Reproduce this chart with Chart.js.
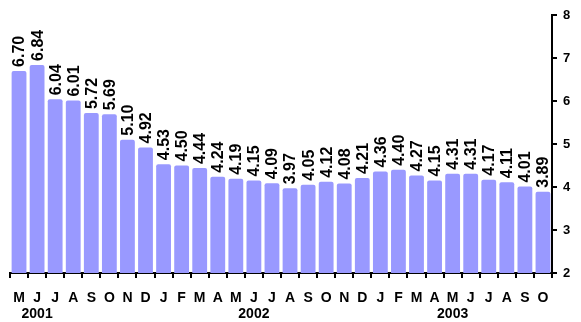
<!DOCTYPE html>
<html>
<head>
<meta charset="utf-8">
<script src="https://cdn.jsdelivr.net/npm/chart.js@4/dist/chart.umd.min.js"></script>
<style>
  html, body { margin: 0; padding: 0; background: #fff; }
  #wrap { width: 581px; height: 322px; }
</style>
</head>
<body>
<div id="wrap"><canvas id="c" width="581" height="322"></canvas></div>
<script>
// Monthly values, May 2001 – Oct 2003
const months = ['M','J','J','A','S','O','N','D',
                'J','F','M','A','M','J','J','A','S','O','N','D',
                'J','F','M','A','M','J','J','A','S','O'];
// Year captions, placed under the given month index
const yearLabels = { 1: '2001', 13: '2002', 24: '2003' };
const values = [6.70, 6.84, 6.04, 6.01, 5.72, 5.69, 5.10, 4.92,
                4.53, 4.50, 4.44, 4.24, 4.19, 4.15, 4.09, 3.97, 4.05, 4.12, 4.08, 4.21, 4.36, 4.40,
                4.27, 4.15, 4.31, 4.31, 4.17, 4.11, 4.01, 3.89];
const yTicks = [2, 3, 4, 5, 6, 7, 8];

const labels = months.map((m, i) => yearLabels[i] ? [m, yearLabels[i]] : m);

const FONT = 'Liberation Sans, Arial, Helvetica, sans-serif';

// Vertical value labels above each bar
const valueLabels = {
  id: 'valueLabels',
  afterDatasetsDraw(chart) {
    const ctx = chart.ctx;
    const meta = chart.getDatasetMeta(0);
    ctx.save();
    ctx.font = 'bold 16px ' + FONT;
    ctx.fillStyle = '#000';
    ctx.textAlign = 'left';
    ctx.textBaseline = 'middle';
    meta.data.forEach((bar, i) => {
      ctx.save();
      ctx.translate(bar.x + 1, bar.y - 4);
      ctx.rotate(-Math.PI / 2);
      ctx.fillText(values[i].toFixed(2), 0, 0);
      ctx.restore();
    });
    ctx.restore();
  }
};

new Chart(document.getElementById('c'), {
  type: 'bar',
  data: {
    labels: labels,
    datasets: [{
      data: values,
      backgroundColor: '#9999FF',
      borderWidth: 0,
      borderRadius: { topLeft: 2, topRight: 2 },
      borderSkipped: 'bottom',
      barPercentage: 0.82,
      categoryPercentage: 1.0
    }]
  },
  options: {
    responsive: false,
    animation: false,
    devicePixelRatio: 1,
    layout: { padding: { left: 10, right: 0, top: 15, bottom: 0 } },
    plugins: { legend: { display: false }, tooltip: { enabled: false } },
    scales: {
      x: {
        afterFit(scale) { scale.height = 49; },
        grid: { offset: true, drawOnChartArea: false, tickLength: 5, color: '#000', lineWidth: 2 },
        border: { display: true, color: '#000', width: 2 },
        ticks: {
          autoSkip: false, maxRotation: 0, minRotation: 0,
          color: '#000', padding: 12,
          font: { family: FONT, size: 14, weight: 'bold', lineHeight: 1.15 }
        }
      },
      y: {
        position: 'right',
        min: 2, max: 8,
        afterFit(scale) { scale.width = 29; },
        afterBuildTicks(scale) { scale.ticks = yTicks.map(v => ({ value: v })); },
        grid: { drawOnChartArea: false, tickLength: 5, color: '#000', lineWidth: 2 },
        border: { display: true, color: '#000', width: 2 },
        ticks: {
          color: '#000', padding: 6,
          font: { family: FONT, size: 13, weight: 'bold' }
        }
      }
    }
  },
  plugins: [valueLabels]
});
</script>
</body>
</html>
